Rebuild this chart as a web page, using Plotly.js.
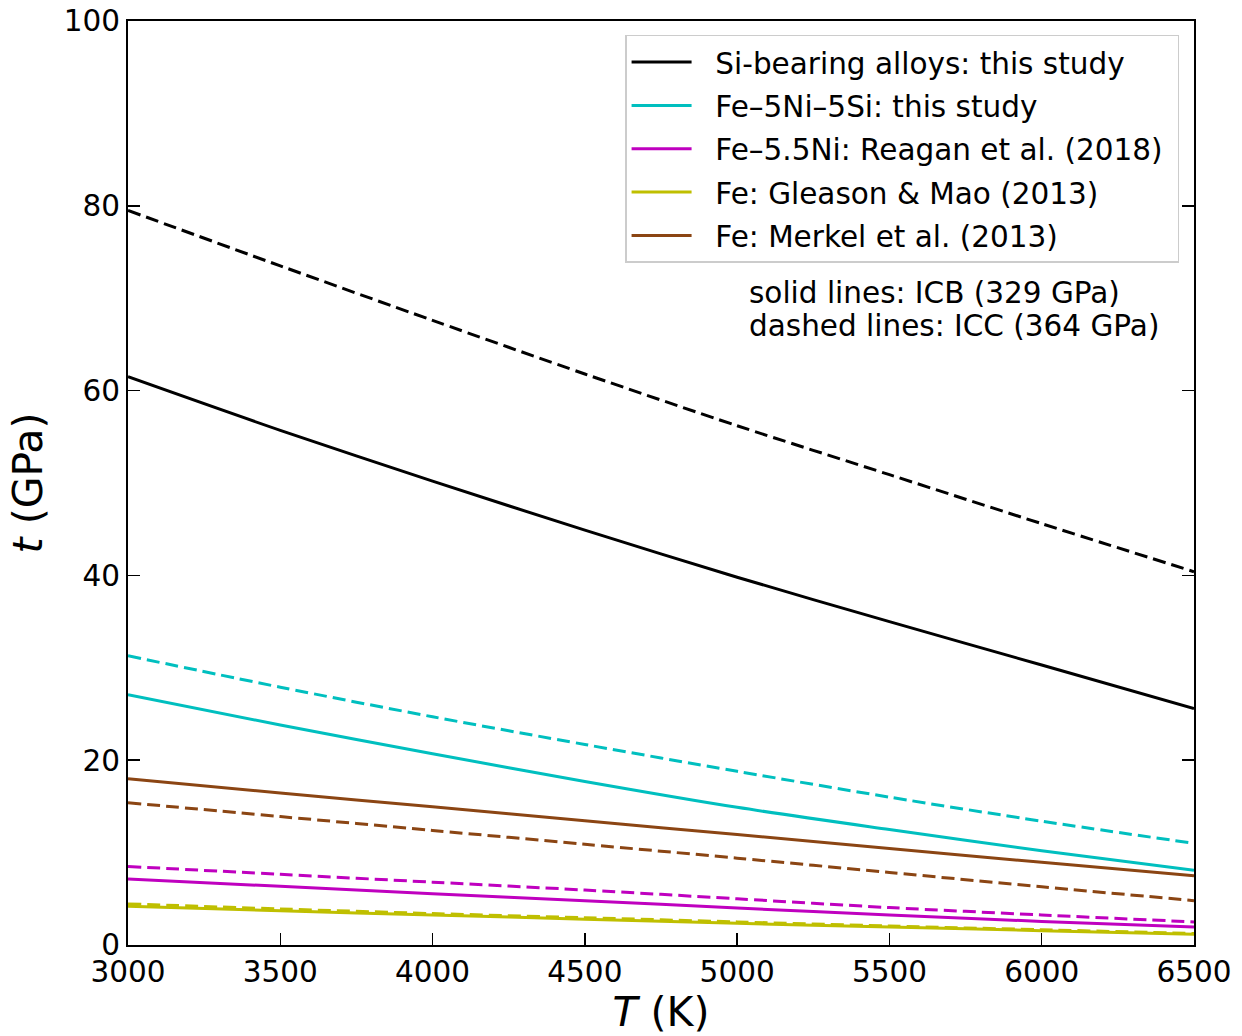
<!DOCTYPE html>
<html>
<head>
<meta charset="utf-8">
<script src="https://cdn.plot.ly/plotly-3.0.1.min.js"></script>
<style>html,body{margin:0;padding:0;background:#fff;}#chart{width:1242px;height:1036px;}</style>
</head>
<body>
<div id="chart"></div>
<script>
// Temperature (K)
const temperature = [3000, 3500, 4000, 4500, 5000, 5500, 6000, 6500];

// Series names (legend)
const seriesNames = [
  "Si-bearing alloys: this study",
  "Fe–5Ni–5Si: this study",
  "Fe–5.5Ni: Reagan et al. (2018)",
  "Fe: Gleason & Mao (2013)",
  "Fe: Merkel et al. (2013)"
];
const seriesColors = ["#000000", "#00bfbf", "#bf00bf", "#bfbf00", "#8b4513"];

// Shear strength t (GPa) at ICB (329 GPa) – solid lines
const siAlloysICB = [61.5, 55.7, 50.2, 44.9, 39.8, 35.0, 30.3, 25.6];
const fe5Ni5SiICB = [27.1, 23.8, 20.7, 17.7, 14.9, 12.5, 10.2, 8.1];
const fe55NiICB   = [7.15, 6.35, 5.55, 4.8, 4.0, 3.25, 2.55, 1.95];
const feGleasonICB = [4.2, 3.7, 3.25, 2.8, 2.35, 1.95, 1.55, 1.15];
const feMerkelICB = [18.0, 16.45, 14.95, 13.45, 11.95, 10.45, 8.95, 7.5];

// Shear strength t (GPa) at ICC (364 GPa) – dashed lines
const siAlloysICC = [79.5, 73.5, 67.6, 61.8, 56.2, 50.9, 45.6, 40.4];
const fe5Ni5SiICC = [31.3, 27.9, 24.7, 21.7, 18.8, 16.0, 13.4, 11.0];
const fe55NiICC   = [8.5, 7.65, 6.8, 5.95, 5.0, 4.05, 3.25, 2.5];
const feGleasonICC = [4.45, 3.9, 3.4, 2.95, 2.5, 2.05, 1.65, 1.25];
const feMerkelICC = [15.4, 13.9, 12.4, 10.9, 9.4, 7.85, 6.3, 4.8];

// Annotation lines
const noteLines = ["solid lines: ICB (329 GPa)", "dashed lines: ICC (364 GPa)"];

const icbSeries = [siAlloysICB, fe5Ni5SiICB, fe55NiICB, feGleasonICB, feMerkelICB];
const iccSeries = [siAlloysICC, fe5Ni5SiICC, fe55NiICC, feGleasonICC, feMerkelICC];

const traces = [];
iccSeries.forEach((ys, i) => {
  traces.push({
    x: temperature, y: ys, type: "scatter", mode: "lines",
    line: {color: seriesColors[i], width: 3, dash: "13px,6px", shape: "spline", smoothing: 0.8},
    showlegend: false, hoverinfo: "skip", legendgroup: "g" + i
  });
});
icbSeries.forEach((ys, i) => {
  traces.push({
    x: temperature, y: ys, type: "scatter", mode: "lines",
    name: "\u00a0\u00a0" + seriesNames[i] + "\u00a0",
    line: {color: seriesColors[i], width: 3, shape: "spline", smoothing: 0.8},
    showlegend: true, legendgroup: "g" + i
  });
});

const font = "DejaVu Sans, sans-serif";
const layout = {
  width: 1242, height: 1036,
  margin: {l: 128, r: 48, t: 21, b: 91},
  paper_bgcolor: "#ffffff", plot_bgcolor: "#ffffff",
  font: {family: font, size: 29, color: "#000"},
  xaxis: {
    range: [3000, 6500], dtick: 500, tick0: 3000,
    ticks: "inside", ticklen: 12, tickwidth: 1.5, tickcolor: "#000",
    showline: true, linecolor: "#000", linewidth: 2, mirror: true,
    showgrid: false, zeroline: false,
    tickfont: {family: font, size: 29.5, color: "#000"},
    title: {text: "<i>T</i> (K)", font: {family: font, size: 41, color: "#000"}, standoff: 7}
  },
  yaxis: {
    range: [0, 100], dtick: 20, tick0: 0,
    ticks: "inside", ticklen: 12, tickwidth: 1.5, tickcolor: "#000",
    showline: true, linecolor: "#000", linewidth: 2, mirror: "allticks",
    showgrid: false, zeroline: false,
    tickfont: {family: font, size: 29.5, color: "#000"},
    title: {text: "<i>t</i> (GPa)", font: {family: font, size: 41, color: "#000"}, standoff: 8}
  },
  legend: {
    x: 0.986, xanchor: "right", y: 0.985, yanchor: "top",
    bgcolor: "rgba(255,255,255,0.9)", bordercolor: "#cccccc", borderwidth: 1.5,
    font: {family: font, size: 29.5, color: "#000"},
    tracegroupgap: 2, itemwidth: 60, traceorder: "grouped"
  },
  annotations: noteLines.map((t, k) => ({
    xref: "paper", yref: "paper", x: 0.5807,
    y: (945 - (293 + k * 33)) / 924, xanchor: "left", yanchor: "middle",
    align: "left", showarrow: false, text: t,
    font: {family: font, size: 29.5, color: "#000"}
  }))
};

Plotly.newPlot("chart", traces, layout, {displayModeBar: false, staticPlot: true});
</script>
</body>
</html>
